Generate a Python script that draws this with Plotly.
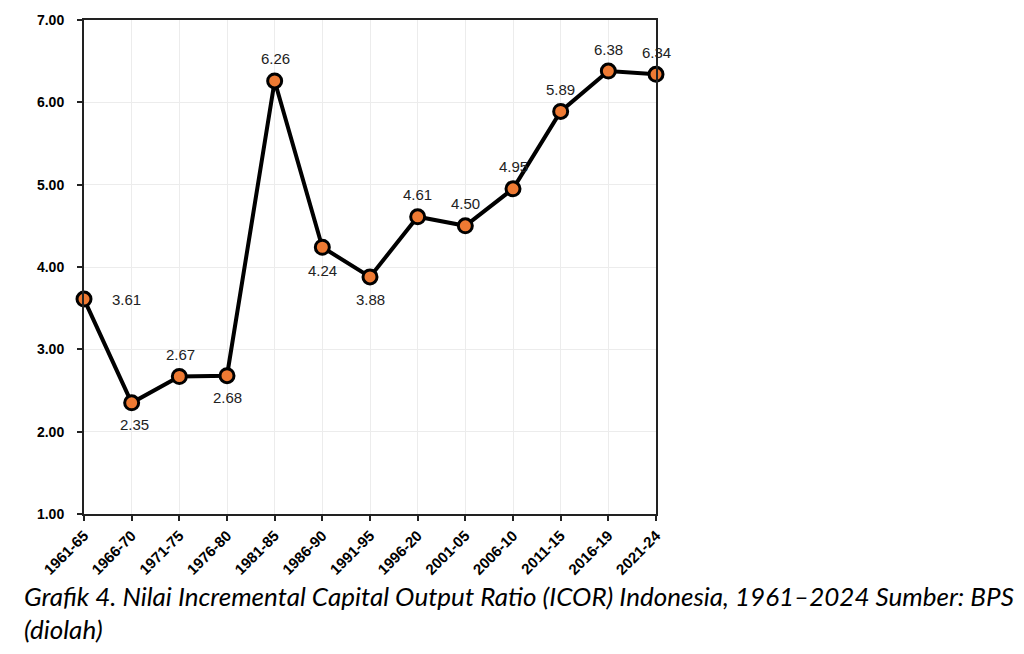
import plotly.graph_objects as go

periods = ["1961-65", "1966-70", "1971-75", "1976-80", "1981-85", "1986-90", "1991-95",
           "1996-20", "2001-05", "2006-10", "2011-15", "2016-19", "2021-24"]
icor = [3.61, 2.35, 2.67, 2.68, 6.26, 4.24, 3.88, 4.61, 4.50, 4.95, 5.89, 6.38, 6.34]
y_ticks = [1, 2, 3, 4, 5, 6, 7]

# label placement (style): pixel offsets relative to each point
label_dx = [42, 3, 1, 0, 1, 0, 0, 0, 0, 0, 0, 0, 0]
label_dy = [0, -22, 22, -22, 22, -23, -23, 22, 22, 22, 22, 22, 22]

xs = list(range(len(periods)))
FONT = "Liberation Sans"

fig = go.Figure()
fig.add_trace(go.Scatter(
    x=xs, y=icor, mode="lines+markers",
    line=dict(color="black", width=4),
    marker=dict(size=14, color="#EE7A33", line=dict(color="black", width=3)),
    cliponaxis=False, showlegend=False, hoverinfo="x+y",
))

for xi, v, dx, dy in zip(xs, icor, label_dx, label_dy):
    fig.add_annotation(x=xi, y=v, text=f"{v:.2f}", showarrow=False,
                       xshift=dx, yshift=dy, xanchor="center", yanchor="middle",
                       font=dict(family=FONT, size=15, color="#222222"))

fig.update_layout(
    width=1024, height=654,
    margin=dict(l=84, r=368, t=16, b=140),
    paper_bgcolor="white", plot_bgcolor="white",
    xaxis=dict(range=[0, len(periods) - 1], tickvals=xs, ticktext=periods,
               tickangle=-45, tickfont=dict(family=FONT, size=15, color="black", weight="bold"),
               showgrid=True, gridcolor="#ececec", gridwidth=1,
               showline=True, linecolor="#222222", linewidth=2, mirror=True,
               ticks="outside", ticklen=5, tickcolor="#222222", tickwidth=2, zeroline=False),
    yaxis=dict(range=[1, 7], tickvals=y_ticks, ticktext=[f"{v:.2f}" for v in y_ticks],
               tickfont=dict(family=FONT, size=14, color="black", weight="bold"),
               showgrid=True, gridcolor="#ececec", gridwidth=1,
               showline=True, linecolor="#222222", linewidth=2, mirror=True,
               ticks="outside", ticklen=5, tickcolor="#222222", tickwidth=2, zeroline=False,
               ticklabelstandoff=10),
)

cap_font = dict(family="Lato", size=26, color="black", style="italic")
fig.add_annotation(text="Grafik 4. Nilai Incremental Capital Output Ratio (ICOR) Indonesia, 1961\u20132024 Sumber: BPS",
                   xref="paper", yref="paper", x=(22 - 84) / 572, y=(514 - 597) / 498,
                   xanchor="left", yanchor="middle", showarrow=False, font=cap_font)
fig.add_annotation(text="(diolah)",
                   xref="paper", yref="paper", x=(22 - 84) / 572, y=(514 - 630) / 498,
                   xanchor="left", yanchor="middle", showarrow=False, font=cap_font)

fig.write_html("out.html", config={"displayModeBar": False},
               post_script="document.body.style.margin='0px';document.body.style.padding='0px';")
